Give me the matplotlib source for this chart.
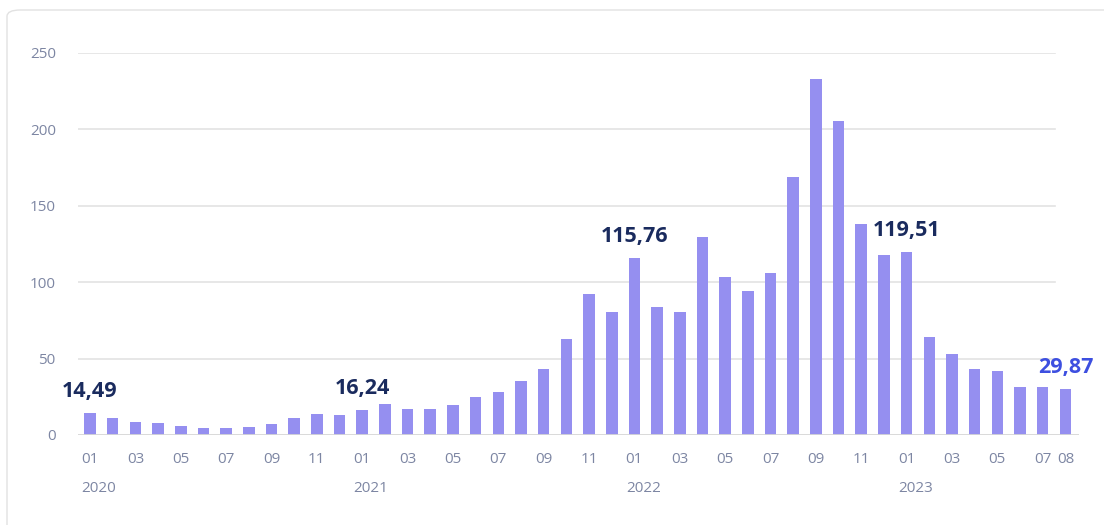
import matplotlib.pyplot as plt
from matplotlib.patches import FancyBboxPatch

# monthly values 2020-01 .. 2023-08
values = [
    14.49, 11.2, 8.8, 7.9, 6.1, 4.6, 4.6, 5.3, 7.5, 11.2, 13.8, 13.4,
    16.24, 20.0, 17.3, 16.9, 19.5, 24.6, 28.3, 35.3, 43.4, 62.9, 92.5, 80.7,
    115.76, 84.0, 80.7, 129.6, 103.1, 94.1, 105.7, 169.1, 233.3, 205.5, 138.2, 117.6,
    119.51, 64.0, 53.1, 43.4, 42.1, 31.6, 31.6, 29.87,
]
start_year = 2020
month_ticks = [m for m in range(len(values)) if m % 2 == 0] + [len(values) - 1]
year_ticks = [0, 12, 24, 36]
highlights = {0: "14,49", 12: "16,24", 24: "115,76", 36: "119,51"}
last_label = "29,87"
yticks = [0, 50, 100, 150, 200, 250]

plt.rcParams["font.family"] = ["Open Sans", "DejaVu Sans"]
bar_color = "#958ff0"
tick_color = "#7d86a3"
navy = "#1a2b5e"

fig = plt.figure(figsize=(11.04, 5.25), dpi=100)
fig.patches.append(FancyBboxPatch(
    (7 / 1104, -0.1), 1.2, 1.1 - 10 / 525,
    boxstyle="round,pad=0,rounding_size=0.012", transform=fig.transFigure,
    facecolor="white", edgecolor="#e2e2e2", linewidth=1, zorder=-5))

ax = fig.add_axes([78 / 1104, (525 - 435) / 525, (1079 - 78) / 1104, (435 - 53) / 525])
ax.set_zorder(2)
ax.set_facecolor("none")
x = list(range(len(values)))
ax.bar(x, values, width=0.51, color=bar_color, zorder=2)
ax.set_xlim(-0.53, len(values) - 0.4)
ax.set_ylim(0, 250)

# gridlines stop short of the last bar
x_grid_end = (1055 - 78) / (1079 - 78)
for y in yticks[1:]:
    ax.axhline(y, xmin=0, xmax=x_grid_end, color="#e3e3e3", linewidth=1.2, zorder=1)
ax.axhline(0, color="#d6d6d6", linewidth=2, zorder=3)

for s in ax.spines.values():
    s.set_visible(False)
ax.set_yticks(yticks)
ax.tick_params(axis="y", length=0, pad=16, labelsize=11, labelcolor=tick_color)
ax.set_xticks(month_ticks)
ax.set_xticklabels([f"{m % 12 + 1:02d}" for m in month_ticks])
ax.tick_params(axis="x", length=0, pad=12, labelsize=11, labelcolor=tick_color)

for m in year_ticks:
    ax.annotate(str(start_year + m // 12), xy=(m, 0), xycoords=("data", "axes fraction"),
                xytext=(-8.5, -53), textcoords="offset pixels", ha="left", va="center",
                fontsize=11, color=tick_color)

for i, txt in highlights.items():
    ax.annotate(txt, xy=(i, values[i]), xytext=(0, 16), textcoords="offset pixels",
                ha="center", va="baseline", fontsize=15.5, fontweight="bold", color=navy)
ax.annotate(last_label, xy=(len(values) - 1, values[-1]), xytext=(0, 16),
            textcoords="offset pixels", ha="center", va="baseline", fontsize=15.5,
            fontweight="bold", color="#3d4fe0", annotation_clip=False)

fig.savefig("out.png", dpi=100)
